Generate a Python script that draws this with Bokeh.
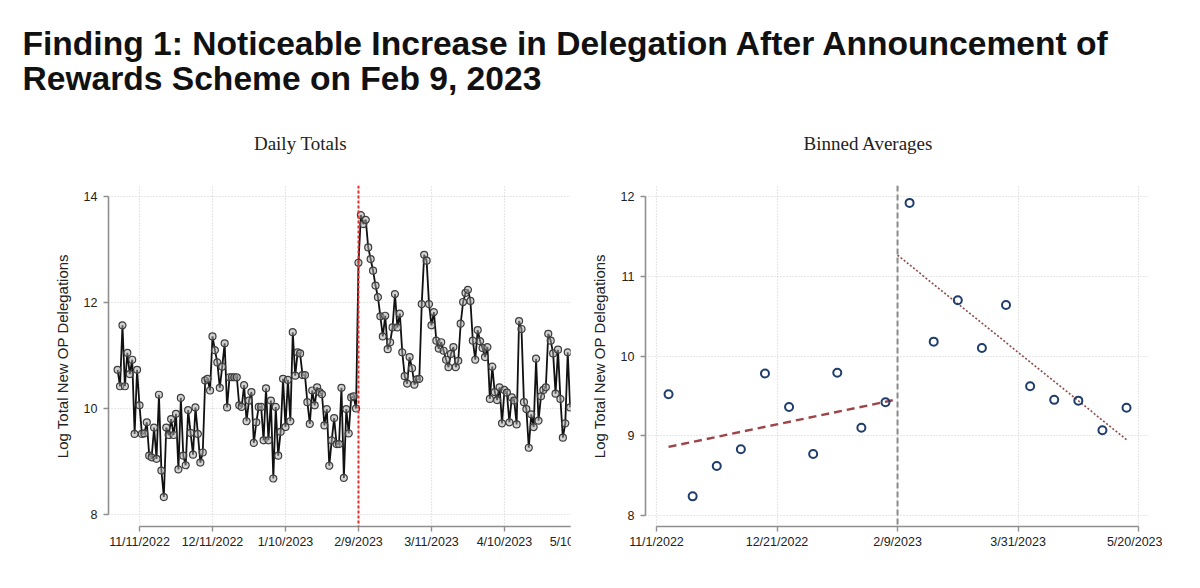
import numpy as np
import pandas as pd
from bokeh.plotting import figure
from bokeh.models import Range1d, FixedTicker, Span, Label
from bokeh.layouts import column, row
from bokeh.embed import file_html
from bokeh.resources import INLINE

# ---------------- data ----------------
title_line1 = "Finding 1: Noticeable Increase in Delegation After Announcement of"
title_line2 = "Rewards Scheme on Feb 9, 2023"
left_title = "Daily Totals"
right_title = "Binned Averages"
y_label = "Log Total New OP Delegations"

daily_start = "2022-11-02"
daily_log = [
    10.73, 10.42, 11.57, 10.42, 11.05, 10.65, 10.92, 9.52, 10.73, 10.06,
    9.52, 9.53, 9.74, 9.11, 9.08, 9.64, 9.05, 10.26, 8.83, 8.33,
    9.64, 9.50, 9.80, 9.50, 9.90, 8.85, 10.20, 9.11, 8.93, 9.97,
    9.54, 9.13, 10.02, 9.52, 8.98, 9.17, 10.53, 10.56, 10.34, 11.36,
    11.10, 10.87, 10.39, 10.79, 11.23, 10.02, 10.59, 10.59, 10.59, 10.59,
    10.06, 10.03, 10.44, 9.76, 10.15, 10.31, 9.35, 9.74, 10.03, 10.03,
    9.40, 10.38, 9.40, 10.15, 8.68, 10.03, 9.11, 9.56, 10.56, 9.65,
    10.54, 9.76, 11.44, 10.62, 11.06, 11.04, 10.63, 10.63, 10.12, 9.71,
    10.34, 10.06, 10.40, 10.31, 10.27, 9.68, 9.99, 8.92, 9.40, 9.82,
    9.33, 9.33, 10.39, 8.69, 9.99, 9.53, 10.21, 10.23, 10.00, 12.75,
    13.65, 13.48, 13.56, 13.04, 12.82, 12.60, 12.32, 12.10, 11.74, 11.36,
    11.75, 11.12, 11.25, 11.53, 12.16, 11.53, 11.79, 11.06, 10.61, 10.47,
    10.97, 10.76, 10.45, 10.55, 10.56, 11.97, 12.90, 12.79, 11.97, 11.57,
    11.82, 11.28, 11.13, 11.25, 11.09, 10.92, 10.78, 11.03, 11.16, 10.78,
    10.90, 11.60, 12.01, 12.18, 12.24, 12.03, 11.28, 10.92, 11.48, 11.27,
    11.14, 10.97, 11.16, 10.18, 10.79, 10.31, 10.16, 10.40, 9.72, 10.35,
    10.30, 9.74, 10.21, 10.15, 9.70, 11.65, 11.50, 10.12, 9.99, 9.26,
    9.89, 9.65, 10.94, 9.77, 10.23, 10.35, 10.40, 11.41, 11.28, 11.04,
    10.28, 11.11, 10.18, 9.45, 9.72, 11.06, 10.02,
]

left_tick_dates = ["2022-11-11", "2022-12-11", "2023-01-10", "2023-02-09",
                   "2023-03-11", "2023-04-10", "2023-05-10"]
left_tick_labels = ["11/11/2022", "12/11/2022", "1/10/2023", "2/9/2023",
                    "3/11/2023", "4/10/2023", "5/10/2023"]
left_y_ticks = [8, 10, 12, 14]

event_date = "2023-02-09"

bin_dates_pre = ["2022-11-06", "2022-11-16", "2022-11-26", "2022-12-06", "2022-12-16",
                 "2022-12-26", "2023-01-05", "2023-01-15", "2023-01-25", "2023-02-04"]
bin_vals_pre = [9.52, 8.24, 8.62, 8.83, 9.78, 9.36, 8.77, 9.79, 9.10, 9.42]
bin_dates_post = ["2023-02-14", "2023-02-24", "2023-03-06", "2023-03-16", "2023-03-26",
                  "2023-04-05", "2023-04-15", "2023-04-25", "2023-05-05", "2023-05-15"]
bin_vals_post = [11.92, 10.18, 10.70, 10.10, 10.64, 9.62, 9.45, 9.44, 9.07, 9.35]

right_tick_dates = ["2022-11-01", "2022-12-21", "2023-02-09", "2023-03-31", "2023-05-20"]
right_tick_labels = ["11/1/2022", "12/21/2022", "2/9/2023", "3/31/2023", "5/20/2023"]
right_y_ticks = [8, 9, 10, 11, 12]

# ---------------- helpers ----------------
BASE = pd.Timestamp("2022-11-01")


def day(s):
    return float((pd.Timestamp(s) - BASE) / pd.Timedelta(days=1))


AXIS_COLOR = "#8f8f8f"
GRID_COLOR = "#d0d0d0"
TICK_FONT = "Liberation Sans"
TICK_SIZE = "12.5px"


def style_axes(p, xticks, xlabels, yticks, xbounds, ybounds):
    xt = FixedTicker(ticks=xticks)
    yt = FixedTicker(ticks=yticks)
    p.xaxis.ticker = xt
    p.yaxis.ticker = yt
    p.xgrid.ticker = xt
    p.ygrid.ticker = yt
    p.xaxis.major_label_overrides = {t: l for t, l in zip(xticks, xlabels)}
    p.yaxis.major_label_overrides = {t: str(t) for t in yticks}
    p.xaxis.bounds = xbounds
    p.yaxis.bounds = ybounds
    for ax in (p.xaxis, p.yaxis):
        ax.axis_line_color = AXIS_COLOR
        ax.axis_line_width = 1.6
        ax.major_tick_line_color = AXIS_COLOR
        ax.major_tick_line_width = 1.4
        ax.major_tick_in = 0
        ax.major_tick_out = 5
        ax.minor_tick_line_color = None
        ax.major_label_text_font = TICK_FONT
        ax.major_label_text_font_size = TICK_SIZE
        ax.major_label_text_color = "#222222"
    p.xaxis.major_label_standoff = 3
    p.yaxis.major_label_standoff = 6
    p.yaxis.axis_label = y_label
    p.yaxis.axis_label_text_font = TICK_FONT
    p.yaxis.axis_label_text_font_size = "15px"
    p.yaxis.axis_label_text_font_style = "normal"
    p.yaxis.axis_label_text_color = "#222222"
    p.yaxis.axis_label_standoff = 10
    for g in (p.xgrid, p.ygrid):
        g.grid_line_color = GRID_COLOR
        g.grid_line_width = 1.2
        g.grid_line_dash = "1 2"
    p.outline_line_color = None
    p.background_fill_color = "white"
    p.border_fill_color = "white"


# ---------------- header: main title + panel titles ----------------
HEAD_H = 160
pt = figure(width=1192, height=HEAD_H, output_backend="svg", toolbar_location=None,
            x_range=Range1d(0, 1192), y_range=Range1d(0, HEAD_H), title=None,
            x_axis_location=None, y_axis_location=None, min_border=0)
pt.grid.visible = False
pt.outline_line_color = None
for txt, yy in ((title_line1, HEAD_H - 43), (title_line2, HEAD_H - 78)):
    pt.add_layout(Label(x=22, y=yy, text=txt, text_font="Liberation Sans",
                        text_font_style="bold", text_font_size="33.6px",
                        text_color="#111111", text_baseline="middle", text_align="left"))
for txt, xx in ((left_title, 300), (right_title, 868)):
    pt.add_layout(Label(x=xx, y=HEAD_H - 143, text=txt, text_font="Liberation Serif",
                        text_font_size="19px", text_color="#222222",
                        text_baseline="middle", text_align="center"))

# ---------------- left: daily totals ----------------
dx = day(daily_start) + np.arange(len(daily_log))
lt = [day(d) for d in left_tick_dates]
p1 = figure(width=612, height=400, output_backend="svg", toolbar_location=None, title=None,
            x_range=Range1d(-2.74, 204.4), y_range=Range1d(7.774, 14.2075),
            min_border_left=108, min_border_right=0, min_border_top=25, min_border_bottom=34)
style_axes(p1, lt, left_tick_labels, left_y_ticks, (lt[0], lt[-1]),
           (left_y_ticks[0], left_y_ticks[-1]))
p1.line(dx, daily_log, line_color="#111111", line_width=1.8)
p1.scatter(dx, daily_log, size=7, marker="circle", line_color="#3c3c3c", line_width=1.2,
           fill_color="#a8a8a8", fill_alpha=0.5)
p1.add_layout(Span(location=day(event_date), dimension="height", line_color="#e3302a",
                   line_width=2, line_dash="3 2"))

# ---------------- right: binned averages ----------------
xpre = np.array([day(d) for d in bin_dates_pre])
xpost = np.array([day(d) for d in bin_dates_post])
ev = day(event_date)
bpre = np.polyfit(xpre, bin_vals_pre, 1)
bpost = np.polyfit(xpost, bin_vals_post, 1)
rt = [day(d) for d in right_tick_dates]

p2 = figure(width=592, height=400, output_backend="svg", toolbar_location=None, title=None,
            x_range=Range1d(-4.56, 203.7), y_range=Range1d(7.862, 12.138),
            min_border_left=75, min_border_right=15, min_border_top=25, min_border_bottom=34)
# overlap the left panel so that it looks cropped at x = 570, as in the reference
p2.margin = (0, 0, 0, -42)
style_axes(p2, rt, right_tick_labels, right_y_ticks, (rt[0], rt[-1]),
           (right_y_ticks[0], right_y_ticks[-1]))
p2.add_layout(Span(location=ev, dimension="height", line_color="#8a8a8a",
                   line_width=2, line_dash="6 3"))
fx_pre = np.array([xpre[0], ev])
fx_post = np.array([ev, xpost[-1]])
p2.line(fx_pre, np.polyval(bpre, fx_pre), line_color="#9e4448", line_width=2.4, line_dash="8 5")
p2.line(fx_post, np.polyval(bpost, fx_post), line_color="#8e4a4a", line_width=1.6, line_dash="2 2")
p2.scatter(np.concatenate([xpre, xpost]), bin_vals_pre + bin_vals_post, marker="circle", size=8,
           line_color="#1f3d6b", line_width=2, fill_color=None)

layout = column(pt, row(p1, p2))
open("out.html", "w").write(file_html(layout, INLINE))
